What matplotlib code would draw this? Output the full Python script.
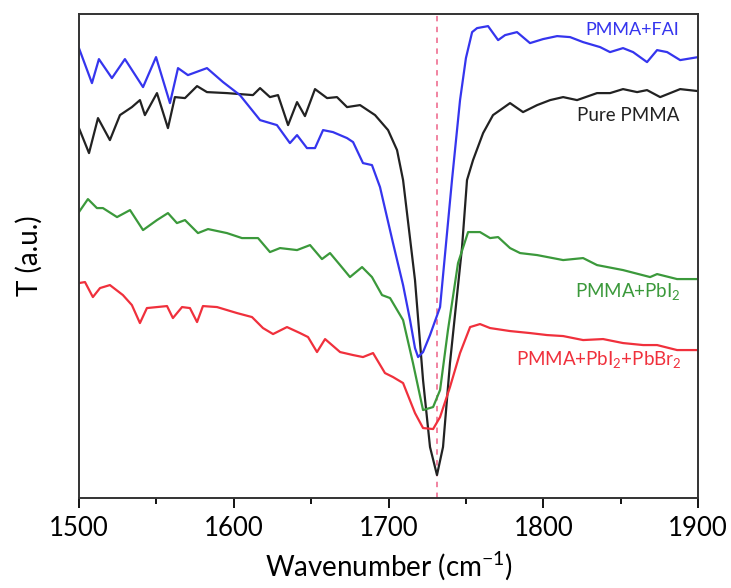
import matplotlib
matplotlib.use("Agg")
from matplotlib import pyplot as plt
from matplotlib.ticker import MultipleLocator
import numpy as np

plt.rcParams['font.family'] = ['Lato', 'DejaVu Sans']
plt.rcParams['mathtext.fontset'] = 'custom'
plt.rcParams['mathtext.rm'] = 'Lato'
plt.rcParams['mathtext.it'] = 'Lato:italic'

# PMMA+FAI (blue)
w_fai = [1500, 1508.4, 1512.9, 1521.3, 1529.7, 1541.4, 1549.8, 1558.8, 1564.0, 1570.4,
         1582.7, 1593.1, 1604.0, 1617.0, 1627.9, 1636.3, 1640.9, 1647.3, 1652.5, 1657.7,
         1664.1, 1673.2, 1677.1, 1683.5, 1689.3, 1694.5, 1702.9, 1709.4, 1713.9, 1717.1,
         1719.1, 1722.3, 1726.8, 1733.3, 1741.0, 1746.2, 1750.0, 1754.0, 1757.2, 1764.3,
         1770.8, 1775.3, 1783.0, 1791.4, 1799.8, 1808.9, 1817.3, 1825.7, 1836.7, 1843.1,
         1851.5, 1858.0, 1867.0, 1873.5, 1880.0, 1888.4, 1900]
t_fai = [450, 415, 439, 420, 439, 411, 441, 395, 430, 423,
         430, 416, 403, 378, 373, 355, 363, 350, 350, 368,
         366, 360, 356, 335, 333, 311, 255, 213, 178, 150,
         141, 146, 163, 191, 318, 398, 440, 466, 470, 472,
         458, 463, 466, 455, 459, 462, 461, 456, 451, 446,
         450, 446, 436, 448, 446, 438, 441]

# Pure PMMA (black)
w_pure = [1500, 1506.5, 1512.3, 1520.0, 1526.5, 1534.2, 1539.4, 1542.6, 1550.4, 1557.5,
          1562.0, 1568.5, 1576.3, 1582.7, 1595.6, 1612.4, 1617.0, 1623.4, 1628.6, 1635.1,
          1640.9, 1646.0, 1652.5, 1660.3, 1666.7, 1673.2, 1681.6, 1691.3, 1699.7, 1705.5,
          1709.4, 1717.1, 1722.3, 1726.8, 1731.3, 1735.2, 1739.7, 1747.5, 1750.7, 1754.6,
          1761.1, 1767.5, 1772.1, 1778.5, 1786.9, 1796.0, 1804.4, 1812.8, 1821.8, 1834.7,
          1843.1, 1851.5, 1860.6, 1867.0, 1875.5, 1888.4, 1900]
t_pure = [370, 345, 380, 358, 383, 391, 398, 383, 405, 370,
          401, 400, 412, 406, 405, 403, 410, 401, 403, 373,
          396, 382, 409, 400, 401, 391, 393, 383, 368, 348,
          318, 218, 118, 51, 23, 51, 135, 251, 318, 338,
          365, 383, 388, 395, 386, 393, 398, 401, 398, 405,
          405, 409, 406, 408, 401, 409, 407]

# PMMA+PbI2 (green)
w_pbi = [1500, 1505.8, 1511.6, 1515.5, 1524.6, 1533.0, 1541.4, 1550.4, 1557.5, 1563.3,
         1568.5, 1576.9, 1583.4, 1595.6, 1605.3, 1615.7, 1623.4, 1629.9, 1640.9, 1649.3,
         1657.0, 1662.2, 1668.7, 1675.1, 1682.9, 1689.3, 1695.8, 1701.0, 1709.4, 1715.8,
         1722.3, 1728.8, 1733.3, 1738.4, 1744.9, 1751.4, 1759.1, 1765.6, 1770.8, 1778.5,
         1785.0, 1796.0, 1812.8, 1825.7, 1834.7, 1851.5, 1869.0, 1873.5, 1886.4, 1900]
t_pbi = [286, 299, 290, 290, 281, 288, 268, 278, 285, 275,
         278, 265, 269, 265, 260, 260, 246, 250, 248, 253,
         239, 245, 233, 221, 231, 221, 203, 200, 178, 135,
         88, 91, 108, 168, 235, 266, 266, 260, 261, 250,
         245, 243, 238, 240, 233, 228, 221, 224, 219, 219]

# PMMA+PbI2+PbBr2 (red)
w_mix = [1500, 1503.9, 1509.0, 1513.6, 1520.0, 1528.4, 1534.2, 1539.4, 1543.9, 1556.9,
         1560.7, 1566.6, 1571.7, 1576.3, 1580.1, 1589.2, 1602.1, 1611.8, 1618.9, 1625.4,
         1634.4, 1642.8, 1648.0, 1653.8, 1659.0, 1668.7, 1677.1, 1683.5, 1690.0, 1697.7,
         1702.9, 1709.4, 1717.1, 1722.3, 1728.8, 1733.3, 1739.7, 1746.2, 1752.7, 1759.1,
         1765.6, 1778.5, 1791.4, 1802.4, 1812.8, 1825.7, 1838.6, 1851.5, 1864.5, 1873.5,
         1886.4, 1900]
t_mix = [215, 216, 201, 210, 213, 203, 193, 175, 190, 192,
         180, 191, 190, 176, 192, 191, 185, 181, 170, 164,
         171, 165, 161, 146, 159, 146, 143, 141, 145, 125,
         121, 115, 85, 70, 69, 81, 111, 145, 171, 174,
         170, 167, 165, 163, 162, 158, 159, 155, 153, 153,
         148, 148]

peak_pos = 1731

fig = plt.figure(figsize=(7.31, 5.88), dpi=100)
ax = fig.add_axes([0.108, 0.153, 0.847, 0.823])

ax.axvline(peak_pos, color='#f07a9a', lw=1.3, ls=(0, (3, 3)), zorder=1)
kw = dict(lw=1.6, solid_joinstyle='round')
ax.plot(w_pure, t_pure, color='#222222', **kw)
ax.plot(w_fai, t_fai, color='#3535ee', **kw)
ax.plot(w_pbi, t_pbi, color='#3b993b', **kw)
ax.plot(w_mix, t_mix, color='#f0303c', **kw)

ax.text(1888, 468, 'PMMA+FAI', color='#3535ee', fontsize=13, ha='right', va='center')
ax.text(1888, 383, 'Pure PMMA', color='#222222', fontsize=13.5, ha='right', va='center')
ax.text(1889, 207, r'PMMA+PbI$_\mathregular{2}$', color='#3b993b', fontsize=13.5, ha='right', va='center')
ax.text(1889, 139, r'PMMA+PbI$_\mathregular{2}$+PbBr$_\mathregular{2}$', color='#f0303c',
        fontsize=13.5, ha='right', va='center')

ax.set_xlim(1500, 1900)
ax.set_ylim(0, 484)
ax.xaxis.set_major_locator(MultipleLocator(100))
ax.xaxis.set_minor_locator(MultipleLocator(50))
ax.tick_params(axis='x', which='both', direction='out', top=False, labelsize=18.5, width=1.3)
ax.tick_params(axis='x', which='major', length=7, pad=6)
ax.tick_params(axis='x', which='minor', length=4)
ax.set_yticks([])
for s in ax.spines.values():
    s.set_linewidth(1.4)
    s.set_color('#333333')

ax.set_xlabel(r'Wavenumber (cm$^\mathregular{-1}$)', fontsize=20, labelpad=6)
ax.set_ylabel('T (a.u.)', fontsize=20, labelpad=26)

fig.savefig('out.png', dpi=100)
